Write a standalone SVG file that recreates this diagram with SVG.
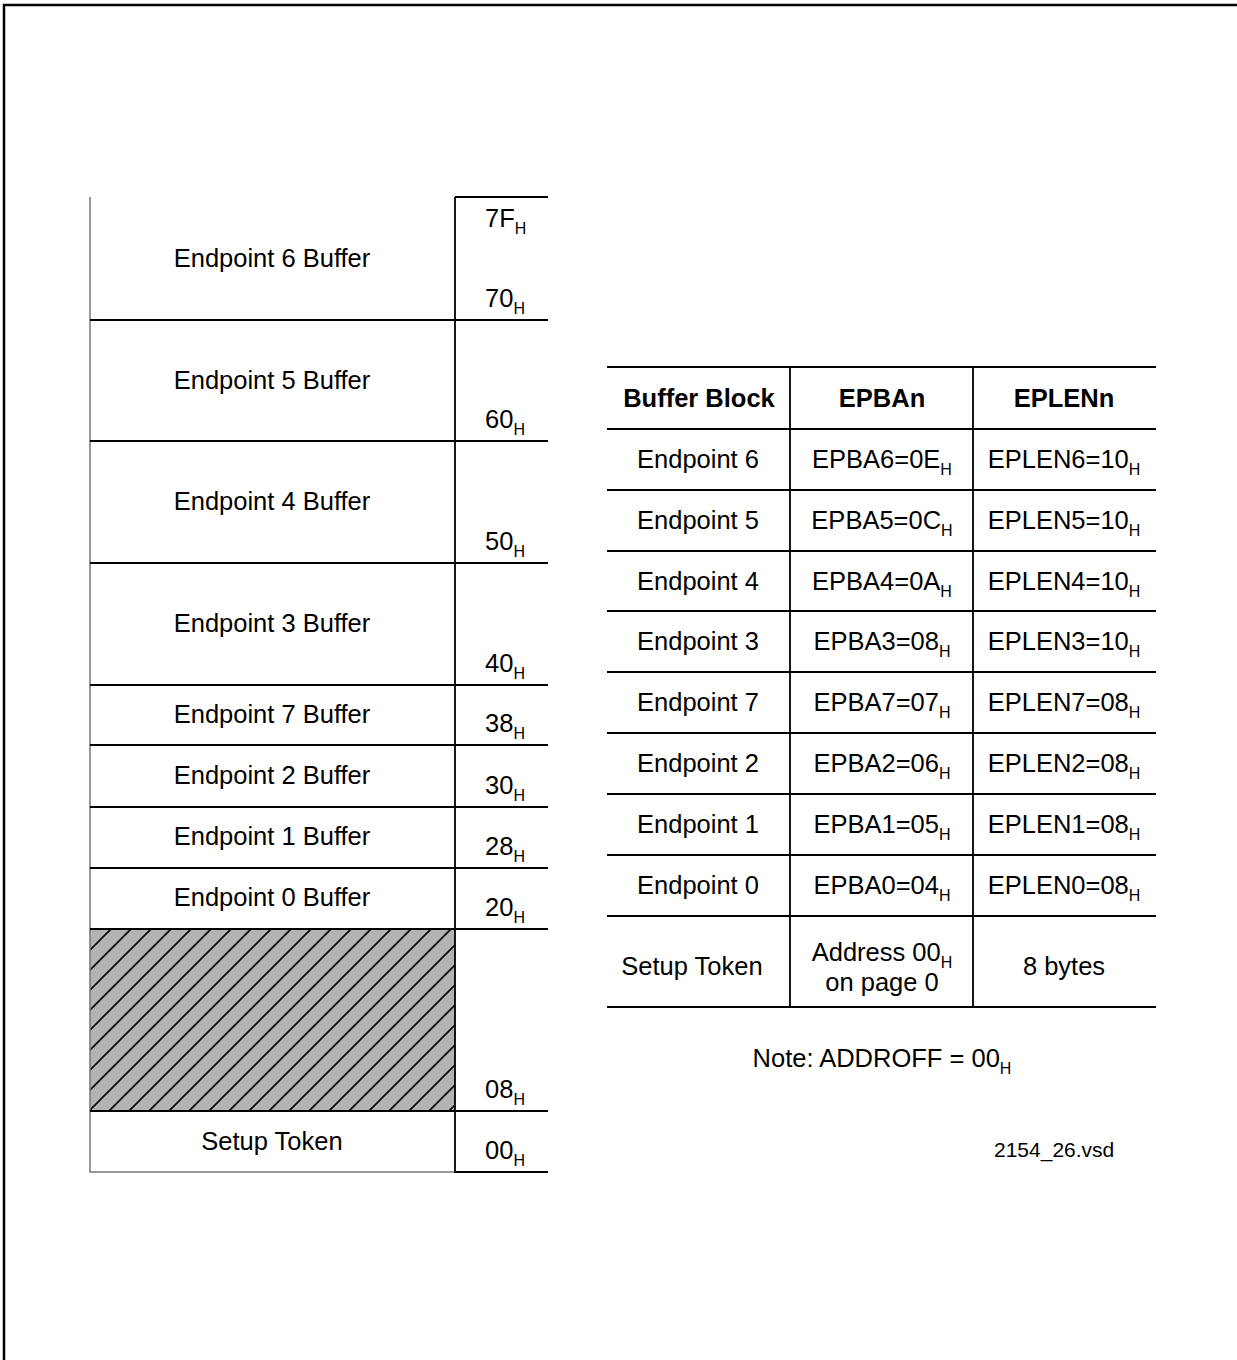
<svg xmlns="http://www.w3.org/2000/svg" width="1237" height="1360" viewBox="0 0 1237 1360">
<style>
text{font-family:"Liberation Sans",Arial,sans-serif;font-size:25.5px;fill:#000}
.c{text-anchor:middle}
.b{font-weight:bold}
.s{font-size:16px}
.ln{stroke:#000;stroke-width:1.8;fill:none}
.gl{stroke:#777;stroke-width:1.5;fill:none}
</style>
<defs>
<pattern id="hatch" patternUnits="userSpaceOnUse" width="20" height="20">
<rect width="20" height="20" fill="#b3b3b3"/>
<path d="M0,20 L20,0 M-5,5 L5,-5 M15,25 L25,15" stroke="#000" stroke-width="1.6"/>
</pattern>
</defs>
<rect width="1237" height="1360" fill="#fff"/>
<path d="M4,1360 V5 H1237" stroke="#000" stroke-width="2.5" fill="none"/>

<g id="memory-map">
<g id="ep6"><text class="c" x="272" y="267">Endpoint 6 Buffer</text><text x="485" y="227">7F<tspan class="s" dy="7">H</tspan></text><text x="485" y="307">70<tspan class="s" dy="7">H</tspan></text></g>
<g id="ep5"><text class="c" x="272" y="389">Endpoint 5 Buffer</text><text x="485" y="428">60<tspan class="s" dy="7">H</tspan></text></g>
<g id="ep4"><text class="c" x="272" y="510">Endpoint 4 Buffer</text><text x="485" y="550">50<tspan class="s" dy="7">H</tspan></text></g>
<g id="ep3"><text class="c" x="272" y="632">Endpoint 3 Buffer</text><text x="485" y="672">40<tspan class="s" dy="7">H</tspan></text></g>
<g id="ep7"><text class="c" x="272" y="723">Endpoint 7 Buffer</text><text x="485" y="732">38<tspan class="s" dy="7">H</tspan></text></g>
<g id="ep2"><text class="c" x="272" y="784">Endpoint 2 Buffer</text><text x="485" y="794">30<tspan class="s" dy="7">H</tspan></text></g>
<g id="ep1"><text class="c" x="272" y="845">Endpoint 1 Buffer</text><text x="485" y="855">28<tspan class="s" dy="7">H</tspan></text></g>
<g id="ep0"><text class="c" x="272" y="906">Endpoint 0 Buffer</text><text x="485" y="916">20<tspan class="s" dy="7">H</tspan></text></g>
<g id="reserved"><rect x="90" y="929" width="365" height="182" fill="url(#hatch)"/><text x="485" y="1098">08<tspan class="s" dy="7">H</tspan></text></g>
<g id="setup"><text class="c" x="272" y="1150">Setup Token</text><text x="485" y="1159">00<tspan class="s" dy="7">H</tspan></text></g>
</g>

<g id="map-lines">
<path class="gl" d="M90,197 V1172 H455"/>
<path class="ln" d="M455,197 H548 M455,197 V1172 H548"/>
<path class="ln" d="M90,320 H548 M90,441 H548 M90,563 H548 M90,685 H548 M90,745 H548 M90,807 H548 M90,868 H548 M90,929 H548 M90,1111 H548"/>
</g>

<g id="table">
<g id="table-lines">
<path class="ln" d="M607,367 H1156 M607,429 H1156 M607,490 H1156 M607,551 H1156 M607,611 H1156 M607,672 H1156 M607,733 H1156 M607,794 H1156 M607,855 H1156 M607,916 H1156 M607,1007 H1156"/>
<path class="ln" d="M790,367 V1007 M973,367 V1007"/>
</g>
<g id="hdr"><text class="c b" x="699" y="407">Buffer Block</text><text class="c b" x="882" y="407">EPBAn</text><text class="c b" x="1064" y="407">EPLENn</text></g>
<g id="r6"><text class="c" x="698" y="468">Endpoint 6</text><text class="c" x="882" y="468">EPBA6=0E<tspan class="s" dy="7">H</tspan></text><text class="c" x="1064" y="468">EPLEN6=10<tspan class="s" dy="7">H</tspan></text></g>
<g id="r5"><text class="c" x="698" y="529">Endpoint 5</text><text class="c" x="882" y="529">EPBA5=0C<tspan class="s" dy="7">H</tspan></text><text class="c" x="1064" y="529">EPLEN5=10<tspan class="s" dy="7">H</tspan></text></g>
<g id="r4"><text class="c" x="698" y="590">Endpoint 4</text><text class="c" x="882" y="590">EPBA4=0A<tspan class="s" dy="7">H</tspan></text><text class="c" x="1064" y="590">EPLEN4=10<tspan class="s" dy="7">H</tspan></text></g>
<g id="r3"><text class="c" x="698" y="650">Endpoint 3</text><text class="c" x="882" y="650">EPBA3=08<tspan class="s" dy="7">H</tspan></text><text class="c" x="1064" y="650">EPLEN3=10<tspan class="s" dy="7">H</tspan></text></g>
<g id="r7"><text class="c" x="698" y="711">Endpoint 7</text><text class="c" x="882" y="711">EPBA7=07<tspan class="s" dy="7">H</tspan></text><text class="c" x="1064" y="711">EPLEN7=08<tspan class="s" dy="7">H</tspan></text></g>
<g id="r2"><text class="c" x="698" y="772">Endpoint 2</text><text class="c" x="882" y="772">EPBA2=06<tspan class="s" dy="7">H</tspan></text><text class="c" x="1064" y="772">EPLEN2=08<tspan class="s" dy="7">H</tspan></text></g>
<g id="r1"><text class="c" x="698" y="833">Endpoint 1</text><text class="c" x="882" y="833">EPBA1=05<tspan class="s" dy="7">H</tspan></text><text class="c" x="1064" y="833">EPLEN1=08<tspan class="s" dy="7">H</tspan></text></g>
<g id="r0"><text class="c" x="698" y="894">Endpoint 0</text><text class="c" x="882" y="894">EPBA0=04<tspan class="s" dy="7">H</tspan></text><text class="c" x="1064" y="894">EPLEN0=08<tspan class="s" dy="7">H</tspan></text></g>
<g id="rs"><text class="c" x="692" y="975">Setup Token</text><text class="c" x="882" y="961">Address 00<tspan class="s" dy="7">H</tspan></text><text class="c" x="882" y="991">on page 0</text><text class="c" x="1064" y="975">8 bytes</text></g>
</g>

<g id="note"><text class="c" x="882" y="1067">Note: ADDROFF = 00<tspan class="s" dy="7">H</tspan></text></g>
<g id="fileref"><text x="994" y="1157" style="font-size:21px">2154_26.vsd</text></g>
</svg>
